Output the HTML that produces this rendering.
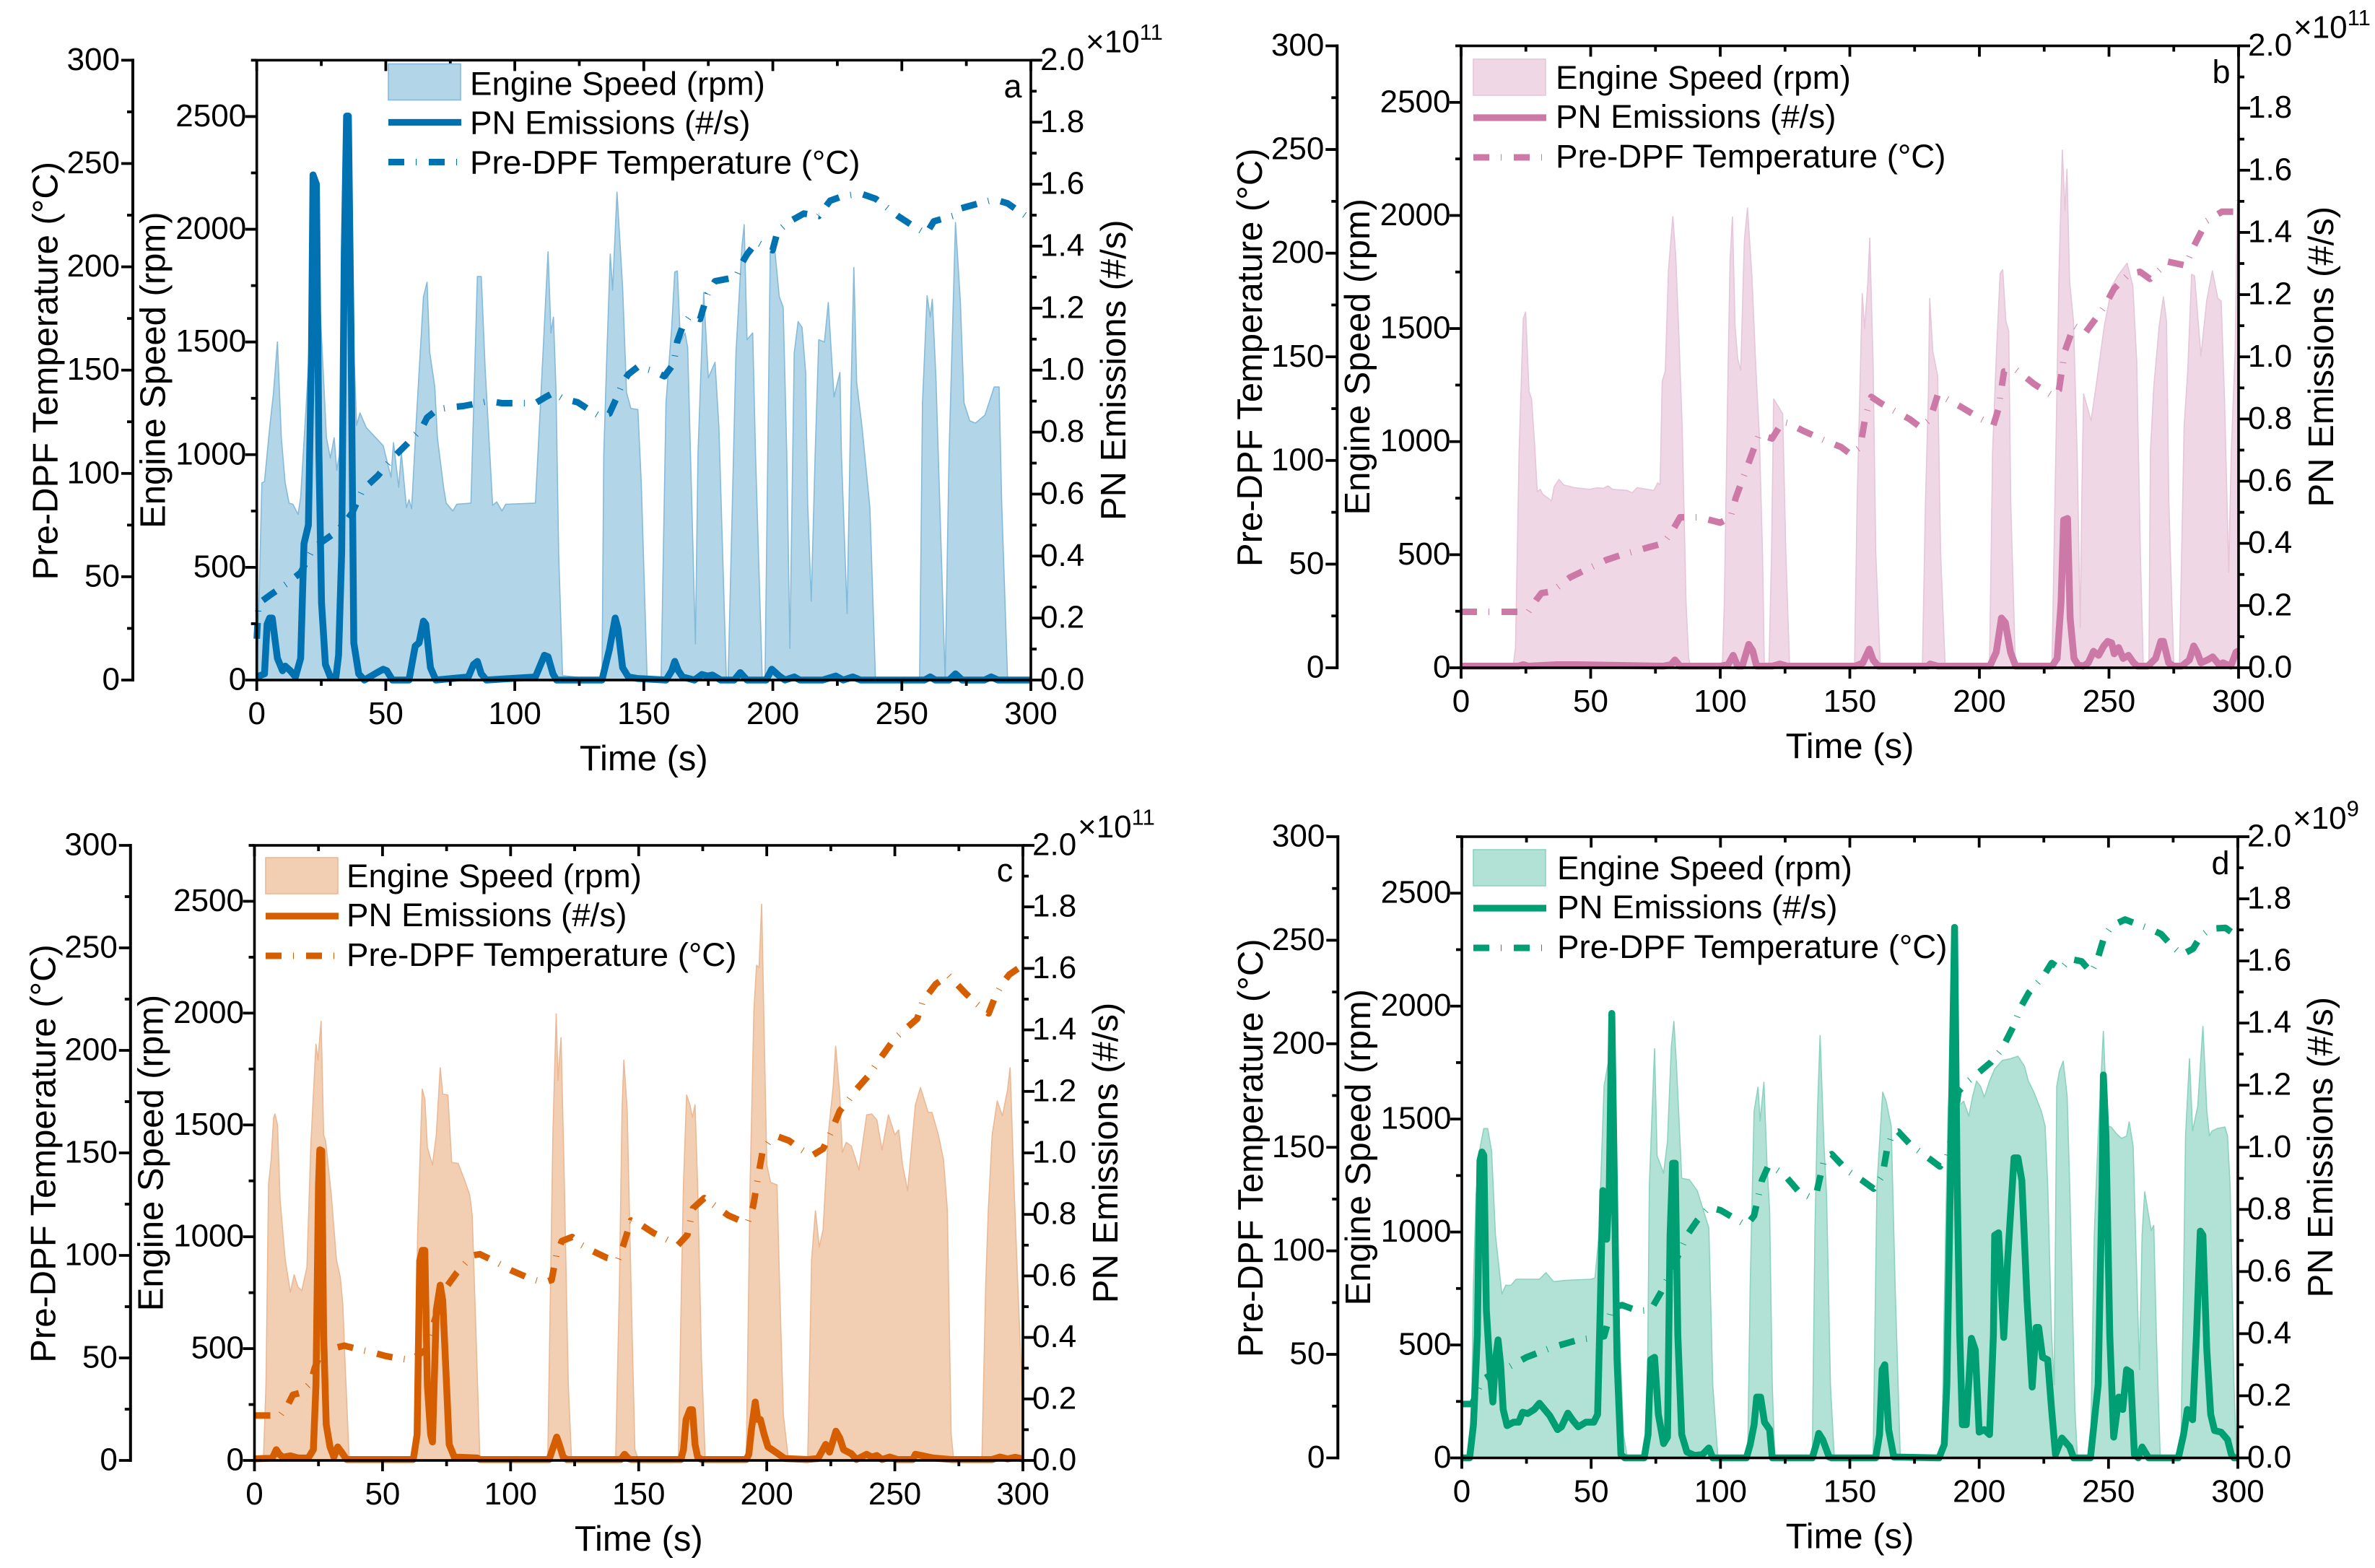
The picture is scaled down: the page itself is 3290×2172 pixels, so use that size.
<!DOCTYPE html>
<html lang="en">
<head>
<meta charset="utf-8">
<title>Engine speed, PN emissions and pre-DPF temperature</title>
<style>
html,body{margin:0;padding:0;background:#fff}
svg{display:block}
text{font-family:"Liberation Sans",Arial,sans-serif;fill:#000}
</style>
</head>
<body>
<svg id="figure" xmlns="http://www.w3.org/2000/svg" width="3290" height="2172" viewBox="0 0 3290 2172"></svg>
<script>
// ---- Shared tick labels ----
const timeTicks = [0, 50, 100, 150, 200, 250, 300];
const tempTicks = [0, 50, 100, 150, 200, 250, 300];
const speedTicks = [0, 500, 1000, 1500, 2000, 2500];
const pnTicks = ['0.0', '0.2', '0.4', '0.6', '0.8', '1.0', '1.2', '1.4', '1.6', '1.8', '2.0'];

// ---- Panel a ----
const aSpeedT = [0,.7,2,3,5,6.5,8,9.5,11,12.5,14,16,17,19.3,20.5,22,23,24,25,27,28.5,30,31,32,33,34,35,36,37.3,38.7,40,42.4,49,52,53,55,56,58,59,60,62,64.6,66,67,69,70,72.4,73.4,76,77.5,83,85.5,87,88.5,91.4,93,95,96.5,108,109.6,112.9,114,115,116,117,118.5,133.8,134.5,135.7,137,137.9,139.6,141.8,143.3,145,147.7,149,151.3,156.7,158.6,160.8,162,163,164.2,166,167,168.6,170,171,173.2,175,177.6,179.1,182,182.7,185.7,188,188.9,190,192.2,193.3,195.9,197,199,200.3,202.5,204,205.4,206.6,208.3,209.8,211.3,212.7,213.5,214.9,216.4,217.8,220,221.5,223.7,226,226.6,228.8,230.3,231.4,232.5,234.6,237.6,239.8,256.9,258,259.8,261,261.8,263.2,266.8,268.3,270.8,272.7,274.1,276.3,278.5,282.2,285.8,287.7,288.7,291,300];
const aSpeedV = [0,270,875,880,1120,1275,1500,1075,875,785,780,735,810,1250,1500,2200,2200,1780,1540,1075,985,1075,930,1000,1400,1900,2300,1900,1565,1130,1185,1120,1040,900,1053,855,1010,765,800,760,1185,1700,1765,1455,1300,1075,855,785,750,780,785,1790,1790,1385,775,790,750,780,785,1140,1900,1540,1610,1275,560,20,0,1000,1450,1890,1730,2165,1740,1275,1205,1200,875,0,0,1230,1565,1810,1815,1500,1540,1475,785,160,1000,1720,1340,1410,1120,0,5,1450,1920,2020,1510,1540,1000,5,5,1900,1965,1700,1655,1000,140,1450,1590,1565,1365,785,350,1000,1510,1500,1675,1255,1365,1000,295,1275,1830,1320,1120,765,0,0,1230,1705,1610,1690,1340,0,1000,2030,1675,1230,1150,1140,1175,1300,1300,785,0,0];
const aPnT = [0,3,4,5,6,8,10,11,13,15,17,18.3,20,21.2,21.8,23.1,24.1,25.1,26.6,28.5,30.7,31.7,32.9,33.9,34.8,35.5,36.5,37.6,39.5,41.7,46.8,49,50.4,52.6,59,61.4,62.9,64.6,65.5,67.3,69.4,82,84,85.5,87,89,108,110,111.5,112.9,114.8,116.2,133.8,136.7,138.9,140,141.8,144,147.7,158.6,160.8,162,163.4,165,169.6,172.5,174.7,176.6,179.8,185,187.4,190,197.4,199.6,202.5,204.7,208.3,210.5,219.3,224.4,227.3,231,234,258.8,261,263,268.3,270.8,273.4,282,284.6,287.3,300];
const aPnV = [.01,.02,.18,.2,.2,.07,.03,.045,.03,.01,.07,.44,.5,1.06,1.63,1.6,.73,.25,.05,.01,.01,.08,.41,1.38,1.82,1.82,1.14,.12,.02,0,.025,.035,.03,0,0,.11,.12,.19,.18,.04,0,.01,.05,.06,.02,0,.01,.05,.08,.075,.02,0,0,.1,.2,.165,.04,.01,.005,0,.03,.06,.03,.01,0,.018,.013,.016,0,0,.024,0,0,.035,.013,0,.01,0,0,.013,0,.01,0,0,.01,0,0,.02,0,0,.01,0,0];
const aTempT = [0,.7,5,12,17,22,30,34,37,41,47,52,58,64,66,70,75,80,90,95,108,112,115,119,124.3,128.6,133,136.7,139.6,141.8,144,147.7,153.5,158,161.5,163,165,168,171.8,174.7,177.6,185.7,187.9,190,193.7,196.6,199.9,201.8,206,212,217.8,222.2,226.6,234,239.8,248.5,254.4,259.5,262.4,269.7,272,280.7,285.8,291,299,300];
const aTempV = [20,37,41,47,52,64,71,76,81,92,99,106.6,114,122,127,131,132,132.6,135,134,134,137,139,136,134.5,131,127.7,129,137,144,148,151.6,149.6,147,153,164,171,176.6,174.7,186.9,193,195,201.5,206,212,210,208,217,221.6,225.8,224.6,232,234,235.5,233,224.6,219.7,216,222,224.6,228,231,232.6,230.7,223.8,223];

// ---- Panel b ----
const bSpeedT = [0,20,21,22.4,23.6,24,24.9,26.2,27.2,28.3,29.4,30.5,31.5,33,34.9,35.9,37.8,39.5,43.9,49.7,52.6,54.8,56.7,58.4,64.2,66,67.9,74.4,75.9,76.8,77.6,78.8,80,81.7,82.8,83.9,85.3,86.8,87.8,88.7,100.8,101.6,102.8,103.8,104.7,105.7,106.7,107.9,109.3,110.5,112.2,113.7,115.1,116.3,117,118.8,119.8,120.6,122.4,124.1,125.3,126.7,127.5,151.8,152.8,154,154.8,155.7,157,157.7,159,160,161.7,162.3,178,179.2,180.3,180.8,182,183.9,185,186.8,203.9,205.1,206.6,208,209,210.2,211.3,212.1,213.9,228,229.5,230.7,232,233,233.8,234.8,236.3,237.7,238.9,239.5,240.2,243.1,245.3,248.2,251.2,253.4,257,259.2,260.7,262.1,263.2,263.6,265.4,266,267.3,269.4,271,272.2,273.1,275,277.2,279,280.4,281.9,283,285.5,287.7,289.9,292,293.3,294.6,296.2,297.2,298.7,299.5,300];
const bSpeedV = [0,0,90,955,1400,1545,1573,1222,1189,1000,778,789,767,755,738,800,833,809,796,789,796,793,804,789,784,773,796,784,818,809,1267,1311,1755,1995,1822,1511,1067,289,44,0,0,289,1178,1800,1993,1511,1367,1315,1889,2033,1733,1333,1022,511,22,0,511,1189,1156,1122,511,22,0,0,733,1289,1655,1500,1711,1900,1333,511,22,0,0,733,1200,1633,1400,1289,511,0,0,955,1400,1744,1760,1533,1489,733,0,0,955,1733,2289,2022,2204,1711,1533,955,178,733,1211,1093,1267,1511,1689,1733,1789,1689,1355,511,22,0,0,955,1244,1511,1640,1533,733,0,0,1067,1311,1740,1733,1378,1622,1755,1633,1622,1178,422,955,1400,2044,2067];
const bPnT = [0,22,24,26,37,45,78,81,82.5,84.5,100,103,105,106.7,108.5,111,112.5,114,120,123,126,152,155,157.5,159,161,180,181,184,204,206.5,208.5,210,212,214,228,230,231.5,232.5,234,235,236.5,238,240,242,244,246,248,249.5,251,252,253.7,255.5,257.5,259.5,261,265,268,270,271,273,275,278,281,282.7,284,285.5,288,290,292.5,294,297,299,300];
const bPnV = [.005,.005,.01,.005,.01,.01,.005,.01,.025,.005,.005,.01,.04,.005,.005,.075,.055,.005,.005,.012,.005,.005,.015,.06,.025,.005,.005,.012,.005,.005,.05,.16,.145,.05,.005,.005,.03,.21,.475,.48,.16,.03,.01,.005,.016,.053,.04,.07,.085,.08,.045,.065,.03,.04,.016,.005,.005,.03,.085,.085,.016,.005,.005,.025,.07,.05,.016,.025,.035,.01,.016,.005,.05,.055];
const bTempT = [0,19,26,29,31,35,42,50,56,62,72,78,81,84.5,92,100,104,106,111,115,120,124,126.2,132,141.5,146.6,150.3,154,156,158.3,162,167.8,173,177.3,181,184,192.7,200.7,205.4,207.3,209.5,213.9,221.2,228.5,230.7,232.9,236.5,240.9,248.2,251.9,257.7,262,265.8,270,272.4,279.7,282.6,287.7,293.6,298,300];
const bTempV = [27,27,27,32.7,36,36.8,43.6,48.4,52,54.5,58,60,65,72.6,72.6,70,72.6,82,99,112.6,110.6,118.6,118,114.3,109,106.5,103,106.5,121,130.7,127.6,123.5,120,116,120,132,126,120,117,124.7,142.9,144,136.8,131,134,152.5,165,161.7,174,182.8,190,191,187.6,192.5,196,194,203,215.5,220,220,225];

// ---- Panel c ----
const cSpeedT = [0,3.5,4.5,5.5,6.5,7.5,8,9,10,12,14,15.5,17,18.5,20.5,22,24,24.8,26,27,27.8,30,32,33.5,34.5,35.3,37,62.5,63.7,65.5,66.5,67.5,69.5,71,72.5,73.5,75.5,77,79.5,82,84,85,86.5,88,114.5,116.5,117.8,118.5,119.7,121,122.5,123.8,141,142.5,143.5,144.2,145.5,147,148.5,150,165.5,166.7,167.5,168.7,170,171,172,173,174.5,176,192,193.5,195,196,197,198,199,200,201.5,204,205,206.5,208.5,216,217.5,219,220,220.5,222,224,226,226.9,228.5,229.5,231,233,236,239,241,243,245,247.5,250,251.5,253,255,258,260,263,264.5,267,269,270.5,272,273,284,285.5,286.5,288,290,292,294,295,296.5,298,300];
const cSpeedV = [0,0,340,1232,1344,1533,1549,1500,1165,897,752,830,775,759,864,1410,1861,1790,1964,1455,1428,1187,897,819,696,450,0,0,1009,1660,1616,1400,1321,1455,1756,1638,1634,1332,1328,1254,1187,1098,562,0,0,1455,1997,1700,1890,1232,340,0,0,786,1567,1790,1567,786,49,0,0,786,1232,1634,1590,1533,1590,1232,451,0,0,1232,2013,2214,2203,2487,1902,1321,1243,1232,786,200,0,0,897,1116,1009,953,1031,1455,1678,1852,1634,1377,1422,1406,1299,1545,1549,1522,1388,1545,1455,1478,1321,1205,1589,1667,1556,1556,1455,1344,1120,116,0,0,786,1120,1455,1607,1540,1656,1756,1232,786,228];
const cPnT = [0,7,8.5,9.5,11,14,17,21,23,24,25,25.5,26.3,27,28,29.5,31,32.5,34,36,62,63.5,64.5,65.5,66.5,67.5,68.8,69.5,71,72.5,73.5,75,76,78,87,88,115,117,118,119,120.5,122,143,144.5,146,147,166.5,167.5,168.5,170,171,172,173,174.5,192,193,194,195.5,196.5,197.5,199,200.5,204,207,216,220,223,224.5,227,228.5,230,233,235,239,241,243,245,248,251,257,258,261,265,272,288,291,294,297,300];
const cPnV = [.005,.008,.035,.022,.01,.015,.008,.008,.035,.246,.894,1.01,1.007,.408,.117,.044,.011,.044,.027,.003,.003,.084,.65,.683,.683,.246,.084,.06,.489,.57,.52,.246,.052,.011,.008,.003,.003,.052,.076,.052,.011,.003,.003,.02,.006,.003,.003,.035,.133,.165,.165,.052,.011,.003,.003,.02,.1,.19,.133,.133,.084,.044,.024,.006,.003,.006,.052,.027,.095,.073,.035,.022,.003,.02,.011,.016,.003,.011,.003,.003,.02,.015,.008,.003,.003,.011,.005,.01,.005];
const cTempT = [0,10,13,15,18,22,23.5,25.5,30,35,40,46,51,56,61,67,70,74,79,85,88,93,100,107,113,116,118,120,124,127.8,132.2,137.4,141.8,144,147,151.3,155.7,160.9,165.3,169,171.2,175.6,180,185,189.6,192.5,194.7,197,198.4,200.6,204.3,208.7,213,217.5,222,224.9,228.5,231.5,235,239.6,244,249.9,254.3,258.7,260.9,266,271,277.8,282,286.6,288.8,291.8,294.7,300];
const cTempV = [21.9,21.9,27,32,33,38,45,51.5,54.4,56,54.4,52.7,51,49.8,49,54,67,83,91.6,100,100.6,97.6,92.8,89,86.7,88,101,107,109,105,102,98.9,97.6,105,117,114.6,111,107.8,105,110,123,128,124,119.5,117,116,124,141,151,155,158,156,152,148.6,152,159.6,170.5,175,181,187.5,195.5,205.7,210.6,215.4,224,232.4,236.6,227.6,222.7,218,225,232.4,237,241.5];

// ---- Panel d ----
const dSpeedT = [0,3.5,4.5,5.5,7,8.5,10,11.5,13,15.5,17,19,21,30,32.5,35.5,40,50,51.5,53,55,56.5,58,59.5,61,62.5,64,71.5,72.5,74.5,75.5,78,79.5,81,82,83,85,88,91,94,95.5,97,99,110.5,111.5,113,114.5,115.3,116.8,118,119,120,121,135.5,136.5,137.5,138.5,140,141,142.5,144,159,160.5,162.7,164,166,167.5,169.5,185.5,187,188,189,190,192,194,196,197.5,199,200.5,202,204,206,209,212,215,217.5,219,221,224,225.5,226.5,228,229,230,231,232.5,234,235,237,238,243,244.5,246,248,249.5,251,253,255,257,258,259.5,261,262,263,264,265.5,266.5,267.5,268.5,270,277.9,279,279.8,281.3,282.5,284.5,286.5,288,289,290,292,295,296,297,298.5,299.5,300];
const dSpeedV = [0,0,764,1161,1370,1458,1458,1359,985,725,764,764,791,791,820,780,786,791,797,985,1646,1745,1756,1205,544,104,0,0,1205,1811,1337,1260,1400,1822,1932,1734,1238,1231,1183,1073,1018,324,0,0,764,1535,1641,1491,1663,1293,1094,324,0,0,985,1535,1870,1381,1161,324,0,0,1205,1619,1580,1469,764,0,0,985,1535,1782,1770,1557,1579,1513,1601,1668,1645,1597,1668,1722,1760,1767,1778,1734,1668,1623,1535,1469,1205,544,324,1645,1712,1756,1601,1205,214,0,0,985,1425,1888,1469,1465,1436,1414,1425,1487,1381,764,390,985,1178,1073,1007,1029,544,0,0,764,1425,1767,1447,1557,1910,1535,1425,1447,1458,1465,1425,1205,324,0,0];
const dPnT = [0,3,4.5,6,7,7.8,8.5,9.5,11,12,13,14,15,16,17.5,20,22,23.5,25.5,28,30,32,34,37,38.5,41,43,45,48,51,52.5,53.5,54.5,56,57,58,59,60,61.5,63,70.5,72,73,74.5,76,78,79.5,80.5,81.5,82.5,83.5,85,87,90,93,95.5,97,110,111.5,113,114,115.5,117,119,120,135.5,137,138,139.5,142,143,160,161.5,162.5,163.5,165,167,184.5,186.5,187.5,188.5,190.5,191.5,192.5,193.5,195,197,198.5,200,202,204,205.5,206,207.5,209.5,211,213.5,215,216.5,218.5,220.5,222,223,224.5,226.5,228,229.5,232,235,236.5,243,246,247.5,248,249,250.5,252,254,255.5,257,258.5,260,261.5,263,265.5,277,279,280.5,282.5,284,285.5,286.5,288,289.5,291,293.5,296,297.5,298.5,300];
const dPnV = [0,0,.107,.396,.957,.985,.974,.476,.268,.18,.316,.38,.3,.156,.104,.115,.115,.147,.143,.156,.176,.156,.136,.091,.1,.144,.12,.1,.115,.115,.14,.476,.861,.704,.877,1.431,.877,.316,.011,0,0,.075,.316,.324,.14,.046,.067,.717,.949,.949,.396,.075,.019,.008,.011,.032,0,0,.043,.107,.196,.196,.115,.091,0,0,.043,.079,.059,.003,0,0,.075,.284,.3,.091,.003,0,.043,.236,.717,1.708,.877,.396,.107,.107,.385,.348,.083,.091,.075,.396,.717,.725,.388,.637,.966,.966,.893,.508,.228,.42,.42,.324,.316,.156,.011,.064,.035,0,0,.236,.877,1.233,1.038,.396,.067,.196,.156,.284,.276,.011,0,.035,0,0,.075,.156,.123,.396,.73,.717,.348,.14,.088,.083,.059,.011,0,0];
const dTempT = [0,4,8,11,18,25,35,45,55,58,62,68,73,77,82,87,91,95.5,100,105,110,113,116,118.5,122,124.5,130,135,137.3,140.2,143,149,154.8,159.2,162.6,164.3,166.5,168.7,173.8,179.7,184.8,187.7,190,192,195.8,200.1,204.5,208.9,213.3,216.2,219.2,225,228,231.6,235,239.6,243.3,245.5,248.4,251.3,256.4,260.8,266,270.3,274.7,278.4,282.7,285.6,289.3,295.2,299.6,300];
const dTempV = [26,26,37.8,40,43.8,48.6,53.4,57,58.7,72.6,73.8,71,71.4,80,93,107.5,114.7,121,119.6,116,112.3,117,134,141,139,137,129,125.6,129,144.8,146.7,138.8,134,130,136.4,148.4,156.8,157.6,150.8,145.5,140.7,146,158,177,182,186.4,191,197.7,208.6,218,224.7,233,239,236,241,239.8,234.5,239.8,251.9,257,260,257.9,255.5,253,247,243,245.9,251.9,255.5,256,252,251];

const SVGNS = 'http://www.w3.org/2000/svg';
const figure = document.getElementById('figure');

function mk(parent, tag, attrs, txt) {
  const el = document.createElementNS(SVGNS, tag);
  for (const k in attrs) el.setAttribute(k, attrs[k]);
  if (txt !== undefined) el.textContent = txt;
  parent.appendChild(el);
  return el;
}
function pathOf(ts, vs, sx, sy) {
  let d = '';
  for (let i = 0; i < ts.length; i++) d += (i ? 'L' : 'M') + sx(ts[i]).toFixed(1) + ' ' + sy(vs[i]).toFixed(1);
  return d;
}
function tickLine(g, x1, y1, x2, y2, nm) {
  const el = mk(g, 'line', {x1: x1, y1: y1, x2: x2, y2: y2, stroke: '#000', 'stroke-width': 3.8});
  
  
}
function label(g, x, y, s, size, anchor, nm, rotate) {
  const a = {x: x, y: y, 'font-size': size, 'text-anchor': anchor};
  if (rotate) a.transform = 'rotate(-90 ' + x + ' ' + y + ')';
  const el = mk(g, 'text', a, s);
  
  
  return el;
}

function drawPanel(p) {
  const T_MAX = 300, TEMP_MAX = 300, SPEED_MAX = 2750, PN_MAX = 2.0;
  const sx = t => p.L + (t / T_MAX) * (p.R - p.L);
  const span = p.B - p.T;
  const yTemp = v => p.B - (v / TEMP_MAX) * span;
  const ySpeed = v => p.B - (v / SPEED_MAX) * span;
  const yPn = v => p.B - (v / PN_MAX) * span;

  const g = mk(figure, 'g', {});
  
  

  // series
  const baseD = 'M' + sx(p.speedT[0]).toFixed(1) + ' ' + p.B + pathOf(p.speedT, p.speedV, sx, ySpeed).replace('M', 'L') + 'L' + sx(p.speedT[p.speedT.length - 1]).toFixed(1) + ' ' + p.B + 'Z';
  const fill = mk(g, 'path', {d: baseD, fill: p.fill, stroke: p.edge, 'stroke-width': 1.6, 'stroke-linejoin': 'round'});
  
  
  const tl = mk(g, 'path', {d: pathOf(p.tempT, p.tempV, sx, yTemp), fill: 'none', stroke: p.color, 'stroke-width': 9, 'stroke-dasharray': '22 16 1 17', 'stroke-linejoin': 'round'});
  
  
  const pl = mk(g, 'path', {d: pathOf(p.pnT, p.pnV, sx, yPn), fill: 'none', stroke: p.color, 'stroke-width': 9.5, 'stroke-linejoin': 'round'});
  
  

  // frame
  const frame = mk(g, 'rect', {x: p.L, y: p.T, width: p.R - p.L, height: p.B - p.T, fill: 'none', stroke: '#000', 'stroke-width': 3.6});
  
  

  // x ticks
  for (let t = 0; t <= T_MAX; t += 25) {
    const major = t % 50 === 0;
    tickLine(g, sx(t), p.B, sx(t), p.B + (major ? 15 : 8), 'x-tick');
    tickLine(g, sx(t), p.T, sx(t), p.T + (major ? 15 : 8), 'x-top-tick');
  }
  timeTicks.forEach(t => label(g, sx(t), p.B + 61, String(t), 44, 'middle', 'x-tick-label'));
  label(g, (p.L + p.R) / 2, p.B + 125, 'Time (s)', 49, 'middle', 'x-axis-title');

  // inner speed axis
  for (let v = 0; v <= 2750; v += 250) {
    const major = v % 500 === 0;
    tickLine(g, p.L - (major ? 16 : 8), ySpeed(v), p.L, ySpeed(v), 'engine-speed-tick');
  }
  speedTicks.forEach(v => label(g, p.L - 14.5, ySpeed(v) + 13.5, String(v), 44, 'end', 'engine-speed-tick-label'));
  label(g, p.L - 127, (p.T + p.B) / 2, 'Engine Speed (rpm)', 49, 'middle', 'engine-speed-axis-title', true);

  // outer temperature axis
  const ox = p.L - 171.7;
  const oax = mk(g, 'line', {x1: ox, y1: p.T - 2, x2: ox, y2: p.B + 2, stroke: '#000', 'stroke-width': 4});
  
  
  for (let v = 0; v <= TEMP_MAX; v += 25) {
    const major = v % 50 === 0;
    tickLine(g, ox - (major ? 16 : 8), yTemp(v), ox, yTemp(v), 'temperature-tick');
  }
  tempTicks.forEach(v => label(g, ox - 18, yTemp(v) + 13.5, String(v), 44, 'end', 'temperature-tick-label'));
  label(g, p.L - 276, (p.T + p.B) / 2 + 1, 'Pre-DPF Temperature (°C)', 49, 'middle', 'temperature-axis-title', true);

  // right PN axis
  for (let i = 0; i <= 20; i++) {
    const v = i / 10;
    const major = i % 2 === 0;
    tickLine(g, p.R, yPn(v), p.R + (major ? 16 : 8), yPn(v), 'pn-tick');
  }
  pnTicks.forEach(s => label(g, p.R + 13, yPn(parseFloat(s)) + 13.5, s, 44, 'start', 'pn-tick-label'));
  label(g, p.R + 131, (p.T + p.B) / 2, 'PN Emissions (#/s)', 49, 'middle', 'pn-axis-title', true);

  // exponent
  const ex = label(g, p.R + 76, p.T - 11, '×10', 44, 'start', 'pn-axis-multiplier');
  mk(ex, 'tspan', {'font-size': 31, dy: -17.5}, p.exp);

  // panel letter
  label(g, p.letterX, p.letterY, p.id, 45, 'middle', 'panel-letter');

  // legend
  const lg = mk(g, 'g', {});
  
  
  const sw = mk(lg, 'rect', {x: p.lgX, y: p.lgY, width: 100, height: 50, fill: p.fill, stroke: p.edge, 'stroke-width': 1.6});
  
  
  const l1 = mk(lg, 'line', {x1: p.lgX, x2: p.lgX + 101, y1: p.lgY + 81, y2: p.lgY + 81, stroke: p.color, 'stroke-width': 9.3});
  
  
  const l2 = mk(lg, 'line', {x1: p.lgX, x2: p.lgX + 95, y1: p.lgY + 136, y2: p.lgY + 136, stroke: p.color, 'stroke-width': 9, 'stroke-dasharray': '22 16 1 17'});
  
  
  label(lg, p.lgX + p.lgTx, p.lgY + p.lgTy, 'Engine Speed (rpm)', 45.7, 'start', 'legend-label-engine-speed');
  label(lg, p.lgX + p.lgTx, p.lgY + p.lgTy + 54, 'PN Emissions (#/s)', 45.7, 'start', 'legend-label-pn-emissions');
  label(lg, p.lgX + p.lgTx, p.lgY + p.lgTy + 109, 'Pre-DPF Temperature (°C)', 45.7, 'start', 'legend-label-temperature');
}

drawPanel({id: 'a', exp: '11', L: 355.7, R: 1428, T: 83.4, B: 942, color: '#0072B2', fill: '#B2D5E8', edge: '#85BBDA',
  letterX: 1403, letterY: 135, lgX: 538, lgY: 88.5, lgTx: 113, lgTy: 43,
  speedT: aSpeedT, speedV: aSpeedV, pnT: aPnT, pnV: aPnV, tempT: aTempT, tempV: aTempV});
drawPanel({id: 'b', exp: '11', L: 2024, R: 3101, T: 63.5, B: 925, color: '#CC79A7', fill: '#EFD7E5', edge: '#E6C6D9',
  letterX: 3077, letterY: 115, lgX: 2041, lgY: 82, lgTx: 114, lgTy: 41,
  speedT: bSpeedT, speedV: bSpeedV, pnT: bPnT, pnV: bPnV, tempT: bTempT, tempV: bTempV});
drawPanel({id: 'c', exp: '11', L: 352.5, R: 1417, T: 1171, B: 2023, color: '#D55E00', fill: '#F2CEB2', edge: '#EBB995',
  letterX: 1392, letterY: 1221, lgX: 368, lgY: 1188, lgTx: 112, lgTy: 41,
  speedT: cSpeedT, speedV: cSpeedV, pnT: cPnT, pnV: cPnV, tempT: cTempT, tempV: cTempV});
drawPanel({id: 'd', exp: '9', L: 2025, R: 3100, T: 1159, B: 2019.5, color: '#009E73', fill: '#B2E2D5', edge: '#8CD3BF',
  letterX: 3076, letterY: 1211, lgX: 2041, lgY: 1177, lgTx: 116, lgTy: 41,
  speedT: dSpeedT, speedV: dSpeedV, pnT: dPnT, pnV: dPnV, tempT: dTempT, tempV: dTempV});
</script>
</body>
</html>
